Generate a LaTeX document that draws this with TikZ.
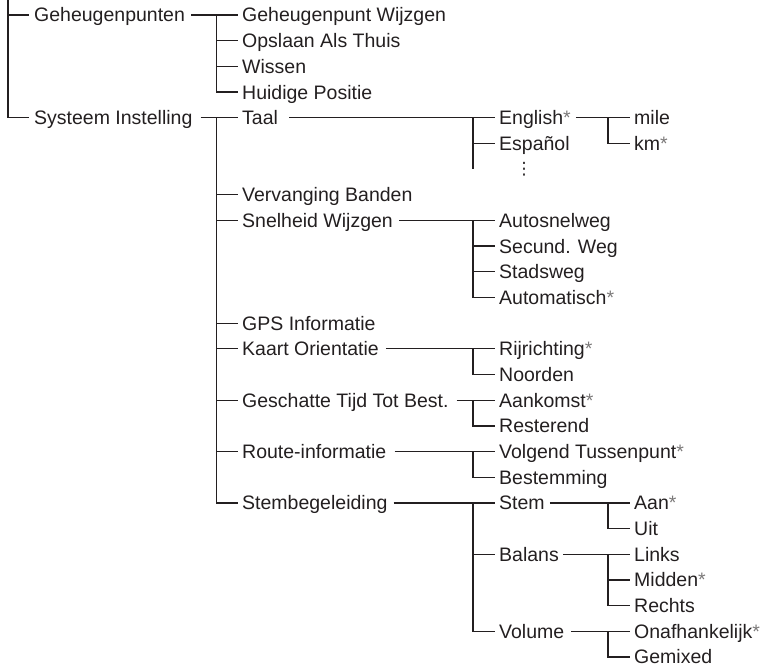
\documentclass[tikz,border=0pt]{standalone}
\usepackage{fontspec}
\setmainfont{Liberation Sans}
\newfontfamily\dejavu{DejaVu Sans}
\definecolor{ink}{RGB}{35,31,32}
\newcommand\mystar{{\color{ink!60}*}}
\tikzset{
  lbl/.style={anchor=west, inner sep=0pt, text height=14pt, text depth=0pt,
    font=\fontsize{19.5}{23}\selectfont, text=ink},
  link/.style={draw=ink, line width=1.3pt, line join=miter}
}
\begin{document}
\begin{tikzpicture}[x=1pt, y=-25.68pt]
\useasboundingbox (0,-0.584) rectangle (766,25.389);
% junction columns
\coordinate (L0) at (8,-0.6);
\coordinate (J2) at (216.5,0);
\coordinate (J3) at (473,0);
\coordinate (J4) at (608,0);
% level 1
\node[lbl] (g) at (34,0) {Geheugenpunten};
\node[lbl] (s) at (34,4) {Systeem Instelling};
% level 2
\node[lbl] (g1) at (242,0) {Geheugenpunt Wijzgen};
\node[lbl] (g2) at (242,1) {Opslaan Als Thuis};
\node[lbl] (g3) at (242,2) {Wissen};
\node[lbl] (g4) at (242,3) {Huidige Positie};
\node[lbl] (taal) at (242,4) {Taal};
\node[lbl] (vb) at (242,7) {Vervanging Banden};
\node[lbl] (sw) at (242,8) {Snelheid Wijzgen};
\node[lbl] (gps) at (242,12) {GPS Informatie};
\node[lbl] (ko) at (242,13) {Kaart Orientatie};
\node[lbl] (gt) at (242,15) {Geschatte Tijd Tot Best.};
\node[lbl] (ri) at (242,17) {Route-informatie};
\node[lbl] (sb) at (242,19) {Stembegeleiding};
% level 3
\node[lbl] (en) at (499,4) {English\mystar};
\node[lbl] (es) at (499,5) {Español};
\node[anchor=center, inner sep=0pt, font=\dejavu\fontsize{17}{20}\selectfont, text=ink] (dots) at (524,6) {⋮};
\node[lbl] (sw1) at (499,8) {Autosnelweg};
\node[lbl] (sw2) at (499,9) {Secund. Weg};
\node[lbl] (sw3) at (499,10) {Stadsweg};
\node[lbl] (sw4) at (499,11) {Automatisch\mystar};
\node[lbl] (ko1) at (499,13) {Rijrichting\mystar};
\node[lbl] (ko2) at (499,14) {Noorden};
\node[lbl] (gt1) at (499,15) {Aankomst\mystar};
\node[lbl] (gt2) at (499,16) {Resterend};
\node[lbl] (ri1) at (499,17) {Volgend Tussenpunt\mystar};
\node[lbl] (ri2) at (499,18) {Bestemming};
\node[lbl] (st) at (499,19) {Stem};
\node[lbl] (ba) at (499,21) {Balans};
\node[lbl] (vo) at (499,24) {Volume};
% level 4
\node[lbl] (mile) at (634,4) {mile};
\node[lbl] (km) at (634,5) {km\mystar};
\node[lbl] (st1) at (634,19) {Aan\mystar};
\node[lbl] (st2) at (634,20) {Uit};
\node[lbl] (ba1) at (634,21) {Links};
\node[lbl] (ba2) at (634,22) {Midden\mystar};
\node[lbl] (ba3) at (634,23) {Rechts};
\node[lbl] (vo1) at (634,24) {Onafhankelijk\mystar};
\node[lbl] (vo2) at (634,25) {Gemixed};

% level 0 connectors
\draw[link] (L0) |- ([xshift=-5pt]s.west);
\draw[link] (g.west -| L0) -- ([xshift=-5pt]g.west);

% Geheugenpunten
\draw[link] ([xshift=6pt]g.east) -- ([xshift=-4pt]g1.west);
\draw[link] (g1.west -| J2) |- ([xshift=-4pt]g4.west);
\draw[link] (g2.west -| J2) -- ([xshift=-4pt]g2.west);
\draw[link] (g3.west -| J2) -- ([xshift=-4pt]g3.west);

% Systeem Instelling
\draw[link] ([xshift=8pt]s.east) -- ([xshift=-4pt]taal.west);
\draw[link] (taal.west -| J2) |- ([xshift=-4pt]sb.west);
\foreach \c in {vb,sw,gps,ko,gt,ri}
  \draw[link] (\c.west -| J2) -- ([xshift=-4pt]\c.west);

% Taal
\draw[link] ([xshift=11pt]taal.east) -- ([xshift=-4pt]en.west);
\draw[link] (en.west -| J3) -- (dots.center -| J3);
\draw[link] (es.west -| J3) -- ([xshift=-4pt]es.west);
% English
\draw[link] ([xshift=5pt]en.east) -- ([xshift=-4pt]mile.west);
\draw[link] (mile.west -| J4) |- ([xshift=-4pt]km.west);

% Snelheid Wijzgen
\draw[link] ([xshift=6pt]sw.east) -- ([xshift=-4pt]sw1.west);
\draw[link] (sw1.west -| J3) |- ([xshift=-4pt]sw4.west);
\draw[link] (sw2.west -| J3) -- ([xshift=-4pt]sw2.west);
\draw[link] (sw3.west -| J3) -- ([xshift=-4pt]sw3.west);

% Kaart Orientatie
\draw[link] ([xshift=7pt]ko.east) -- ([xshift=-4pt]ko1.west);
\draw[link] (ko1.west -| J3) |- ([xshift=-4pt]ko2.west);
% Geschatte Tijd
\draw[link] ([xshift=8pt]gt.east) -- ([xshift=-4pt]gt1.west);
\draw[link] (gt1.west -| J3) |- ([xshift=-4pt]gt2.west);
% Route-informatie
\draw[link] ([xshift=8pt]ri.east) -- ([xshift=-4pt]ri1.west);
\draw[link] (ri1.west -| J3) |- ([xshift=-4pt]ri2.west);

% Stembegeleiding
\draw[link] ([xshift=6pt]sb.east) -- ([xshift=-4pt]st.west);
\draw[link] (st.west -| J3) |- ([xshift=-4pt]vo.west);
\draw[link] (ba.west -| J3) -- ([xshift=-4pt]ba.west);
% Stem
\draw[link] ([xshift=5pt]st.east) -- ([xshift=-4pt]st1.west);
\draw[link] (st1.west -| J4) |- ([xshift=-4pt]st2.west);
% Balans
\draw[link] ([xshift=4pt]ba.east) -- ([xshift=-4pt]ba1.west);
\draw[link] (ba1.west -| J4) |- ([xshift=-4pt]ba3.west);
\draw[link] (ba2.west -| J4) -- ([xshift=-4pt]ba2.west);
% Volume
\draw[link] ([xshift=7pt]vo.east) -- ([xshift=-4pt]vo1.west);
\draw[link] (vo1.west -| J4) |- ([xshift=-4pt]vo2.west);
\end{tikzpicture}
\end{document}
